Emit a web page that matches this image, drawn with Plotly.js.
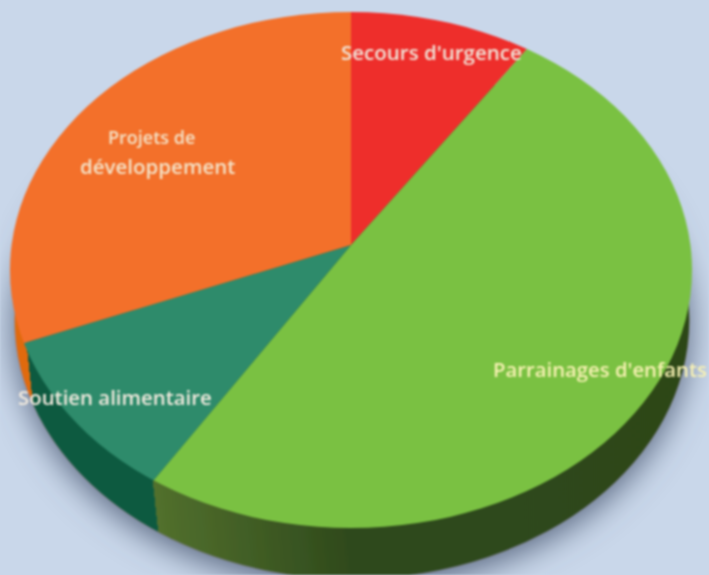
<!DOCTYPE html>
<html>
<head>
<meta charset="utf-8">
<script src="https://cdn.plot.ly/plotly-3.0.1.min.js"></script>
<style>
html,body{margin:0;padding:0;background:#c9d7ea;overflow:hidden}
#chart{width:709px;height:575px;filter:blur(0.8px)}
</style>
</head>
<body>
<div id="chart"></div>
<script>
// Data
var categories = ["Secours d'urgence", "Parrainages d'enfants", "Soutien alimentaire", "Projets de développement"];
var values = [9.5, 49.5, 10, 31];
var topColors = ["#ee2e2b", "#7ac142", "#2e8b6b", "#f3702a"];
var sideColors = ["#2c4518", "#2c4518", "#0d5a40", "#e06a10"];
var labelLines = ["Secours d'urgence", "Parrainages d'enfants", "Soutien alimentaire", "Projets de", "développement"];
var labelColors = ["#f1e6da", "#f8f2b4", "#f3ebdf", "#f4e3c8", "#f4e3c8"];
var labelX = [431, 600, 115, 151, 157];
var labelY = [52, 369, 397, 137, 166];
var labelSize = [20.5, 20.3, 20.4, 18, 20.5];

var W = 709, H = 575;
var gd = document.getElementById('chart');

var pieBase = {
  type: 'pie', sort: false, direction: 'clockwise', rotation: 0,
  labels: categories, values: values, textinfo: 'none', hoverinfo: 'label+percent',
  showlegend: false, domain: {x: [0, 1], y: [0, 1]}
};
var side = Object.assign({}, pieBase, {marker: {colors: sideColors, line: {width: 0}}});
var top_ = Object.assign({}, pieBase, {marker: {colors: topColors, line: {width: 0}}});

var annotations = labelLines.map(function (t, i) {
  return {
    text: t, xref: 'paper', yref: 'paper', x: labelX[i] / W, y: 1 - labelY[i] / H,
    xanchor: 'center', yanchor: 'middle', showarrow: false,
    font: {family: '"Open Sans", sans-serif', size: labelSize[i], color: labelColors[i], weight: 600}
  };
});

var layout = {
  width: W, height: H, margin: {l: 0, r: 0, t: 0, b: 0, pad: 0},
  paper_bgcolor: '#c9d7ea', plot_bgcolor: '#c9d7ea', annotations: annotations,
  shapes: [{type: 'circle', xref: 'paper', yref: 'paper', layer: 'below',
    x0: (352 - 337) / W, x1: (352 + 337) / W, y0: 1 - (320 + 259) / H, y1: 1 - (320 - 259) / H,
    fillcolor: 'rgba(0,0,0,0)', line: {color: '#b8a898', width: 1.5}}]
};

Plotly.newPlot(gd, [side, top_], layout, {displayModeBar: false, staticPlot: true}).then(function () {
  var NS = 'http://www.w3.org/2000/svg';
  var svg = gd.querySelector('.main-svg');
  var defs = svg.querySelector('defs') || svg.insertBefore(document.createElementNS(NS, 'defs'), svg.firstChild);
  function el(parent, name, attrs) {
    var e = document.createElementNS(NS, name);
    for (var k in attrs) e.setAttribute(k, attrs[k]);
    parent.appendChild(e);
    return e;
  }
  // Top-face ellipse clip
  var clip = el(defs, 'clipPath', {id: 'topClip'});
  el(clip, 'ellipse', {cx: 351, cy: 270, rx: 341, ry: 258});
  // Soft shadow around the disc
  var flt = el(defs, 'filter', {id: 'discShadow', x: '-20%', y: '-20%', width: '140%', height: '140%'});
  el(flt, 'feDropShadow', {dx: 0, dy: 8, stdDeviation: 16, 'flood-color': '#4c5a72', 'flood-opacity': 0.9});
  // Side gradient by screen x
  function t(x, y) { return ((x + 100) * 809 - y * 89) / 662402; }
  var grad = el(defs, 'linearGradient', {id: 'sideGrad', gradientUnits: 'userSpaceOnUse', x1: -100, y1: 0, x2: 709, y2: -89});
  var b1 = t(29, 367), b2 = t(155, 502), m = t(350, 560);
  [[0, '#e06a10'], [b1, '#e06a10'], [b1, '#0d5a40'], [b2, '#0d5a40'], [b2, '#52702d'], [m, '#2f4a1c'], [1, '#2c4518']]
    .forEach(function (s) { el(grad, 'stop', {offset: s[0], 'stop-color': s[1]}); });

  var traces = gd.querySelectorAll('.pielayer .trace');
  var cd = gd.calcdata;

  function place(trace, c, vx, vy, rx, ry) {
    var sx = rx / c.r, sy = ry / c.r;
    trace.setAttribute('transform', 'translate(' + vx + ',' + vy + ') scale(' + sx + ',' + sy + ') translate(' + (-c.cx) + ',' + (-c.cy) + ')');
  }
  // Side disc: exact ellipse
  place(traces[0], cd[0][0], 352, 320, 336, 258);
  // Top face: vertex above the ellipse centre, clipped to the ellipse
  place(traces[1], cd[1][0], 351, 245, 400, 400 * 258 / 341);

  var w0 = document.createElementNS(NS, 'g');
  w0.setAttribute('filter', 'url(#discShadow)');
  traces[0].parentNode.insertBefore(w0, traces[0]);
  w0.appendChild(traces[0]);
  var w1 = document.createElementNS(NS, 'g');
  w1.setAttribute('clip-path', 'url(#topClip)');
  traces[1].parentNode.insertBefore(w1, traces[1]);
  w1.appendChild(traces[1]);

  traces[0].querySelectorAll('path.surface').forEach(function (p) {
    var inv = p.getCTM().inverse();
    grad.setAttribute('gradientTransform', 'matrix(' + [inv.a, inv.b, inv.c, inv.d, inv.e, inv.f].join(',') + ')');
    p.style.fill = 'url(#sideGrad)';
    // Seal the hairline seams between side slices
    p.style.stroke = 'url(#sideGrad)';
    p.style.strokeWidth = '2px';
    p.style.strokeOpacity = 1;
  });
});
</script>
</body>
</html>
